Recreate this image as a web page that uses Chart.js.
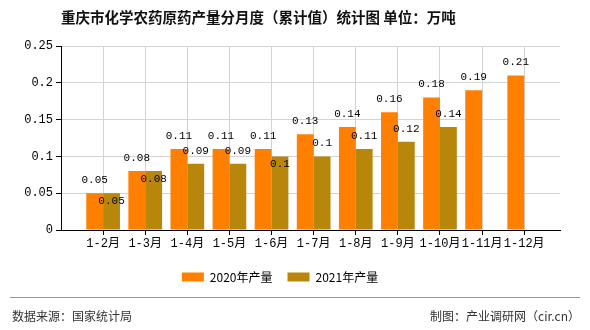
<!DOCTYPE html>
<html>
<head>
<meta charset="utf-8">
<script src="https://cdn.jsdelivr.net/npm/chart.js@4/dist/chart.umd.min.js"></script>
<style>
  html, body { margin: 0; padding: 0; background: #fff; }
  #wrap { position: relative; width: 590px; height: 330px; }
  #title { position: absolute; left: 61px; top: 7px; font: bold 14.5px/20px 'Noto Sans CJK SC', sans-serif; color: #111; white-space: nowrap; }
  #footer { position: absolute; left: 10px; right: 10px; top: 297px; border-top: 1px solid #999; font: 12px/16px 'Noto Sans CJK SC', sans-serif; color: #333; }
  #footer .l { position: absolute; left: 2px; top: 10px; }
  #footer .r { position: absolute; right: 0; top: 10px; }
</style>
</head>
<body>
<div id="wrap">
  <canvas id="chart" width="590" height="330"></canvas>
  <div id="title">重庆市化学农药原药产量分月度（累计值）统计图 单位：万吨</div>
  <div id="footer"><span class="l">数据来源：国家统计局</span><span class="r">制图：产业调研网（cir.cn）</span></div>
</div>
<script>
const categories = ['1-2月', '1-3月', '1-4月', '1-5月', '1-6月', '1-7月', '1-8月', '1-9月', '1-10月', '1-11月', '1-12月'];
const output2020 = [0.05, 0.08, 0.11, 0.11, 0.11, 0.13, 0.14, 0.16, 0.18, 0.19, 0.21];
const output2021 = [0.05, 0.08, 0.09, 0.09, 0.1, 0.1, 0.11, 0.12, 0.14, null, null];
const yTicks = [0, 0.05, 0.1, 0.15, 0.2, 0.25];

const monoFont = "'Liberation Mono', 'Noto Sans CJK SC', monospace";

// value labels: 2021 label goes inside the bar when it would hit the 2020 label
const valueLabels = {
    id: 'valueLabels',
    afterDatasetsDraw(chart) {
        const ctx = chart.ctx;
        const m0 = chart.getDatasetMeta(0);
        const m1 = chart.getDatasetMeta(1);
        ctx.save();
        ctx.font = '11px ' + monoFont;
        ctx.fillStyle = '#000';
        ctx.textAlign = 'center';
        ctx.textBaseline = 'middle';
        m0.data.forEach((bar, i) => {
            if (output2020[i] == null) return;
            ctx.fillText(String(output2020[i]), bar.x, bar.y - 13);
        });
        m1.data.forEach((bar, i) => {
            if (output2021[i] == null) return;
            let y = bar.y - 13;
            const other = m0.data[i];
            if (other && Math.abs((other.y - 13) - y) < 12) y = bar.y + 8;
            ctx.fillText(String(output2021[i]), bar.x, y);
        });
        ctx.restore();
    }
};

new Chart(document.getElementById('chart'), {
    type: 'bar',
    data: {
        datasets: [
            {
                label: '2020年产量',
                data: output2020.map((v, i) => ({ x: i + 1, y: v })),
                backgroundColor: '#FF8000',
                borderWidth: 0,
                categoryPercentage: 0.8,
                barPercentage: 1.0
            },
            {
                label: '2021年产量',
                data: output2021.map((v, i) => ({ x: i + 1, y: v })),
                backgroundColor: '#B8860B',
                borderWidth: 0,
                categoryPercentage: 0.8,
                barPercentage: 1.0
            }
        ]
    },
    options: {
        responsive: false,
        animation: false,
        layout: { padding: { top: 46, right: 30, bottom: 37, left: 0 } },
        plugins: {
            legend: {
                position: 'bottom',
                labels: {
                    boxWidth: 22,
                    boxHeight: 9,
                    padding: 15,
                    color: '#000',
                    font: { size: 12, family: "'Noto Sans CJK SC', sans-serif" }
                }
            },
            title: { display: false },
            tooltip: { enabled: false }
        },
        scales: {
            x: {
                type: 'linear',
                offset: false,
                min: 0,
                max: 11.85,
                afterBuildTicks: (scale) => { scale.ticks = categories.map((c, i) => ({ value: i + 1 })); },
                afterFit: (scale) => { scale.height = 26; },
                ticks: {
                    autoSkip: false,
                    maxRotation: 0,
                    padding: 2,
                    color: '#000',
                    font: { size: 12, family: monoFont },
                    callback: (v) => categories[v - 1]
                },
                grid: { offset: false, color: '#d3d3d3', tickColor: '#000', tickLength: 5 },
                border: { color: '#000', width: 1 }
            },
            y: {
                min: 0,
                max: 0.25,
                afterBuildTicks: (scale) => { scale.ticks = yTicks.map(v => ({ value: v })); },
                afterFit: (scale) => { scale.width = 61; },
                ticks: {
                    padding: 3,
                    color: '#000',
                    font: { size: 12, family: monoFont },
                    callback: (v) => String(v)
                },
                grid: { color: '#d3d3d3', tickColor: '#000', tickLength: 5 },
                border: { color: '#000', width: 1 }
            }
        }
    },
    plugins: [valueLabels]
});
</script>
</body>
</html>
